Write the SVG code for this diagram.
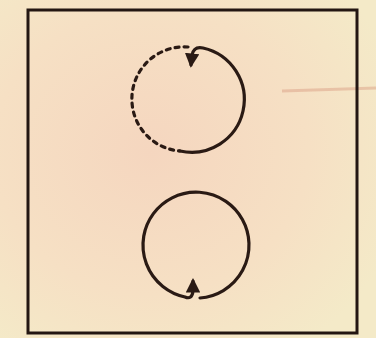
<svg xmlns="http://www.w3.org/2000/svg" width="376" height="338" viewBox="0 0 376 338">
<defs>
<radialGradient id="bg" cx="0.4" cy="0.45" r="0.7">
<stop offset="0" stop-color="#f5d6bf"/>
<stop offset="0.6" stop-color="#f6e0c4"/>
<stop offset="1" stop-color="#f4eac8"/>
</radialGradient>
<marker id="ah" viewBox="0 0 10 10" refX="8" refY="5" markerWidth="4.5" markerHeight="4.5" orient="auto">
<path d="M0,0 L10,5 L0,10 z" fill="#2a1a14"/>
</marker>
<style>
.ink{fill:none;stroke:#2a1a14;stroke-width:3.2;stroke-linecap:round}
.dash{stroke-dasharray:4 5}
</style>
</defs>
<rect width="376" height="338" fill="url(#bg)"/>
<path d="M282 91 L376 88" stroke="#d99a80" stroke-width="3" opacity="0.45"/>
<rect id="frame" x="28" y="10" width="329" height="323" fill="none" stroke="#231612" stroke-width="3"/>
<g id="connectors">
<g id="top-loop">
<path class="ink dash" d="M188 47 A52 52 0 0 0 180 151"/>
<path class="ink" d="M180 151 A52 52 0 1 0 203 48 Q194 46 192 55 L191 65" marker-end="url(#ah)"/>
</g>
<g id="bottom-loop">
<path class="ink" d="M200 298 A53 53 0 1 0 185 297 Q192 300 193 291 L193 281" marker-end="url(#ah)"/>
</g>
</g>
</svg>
